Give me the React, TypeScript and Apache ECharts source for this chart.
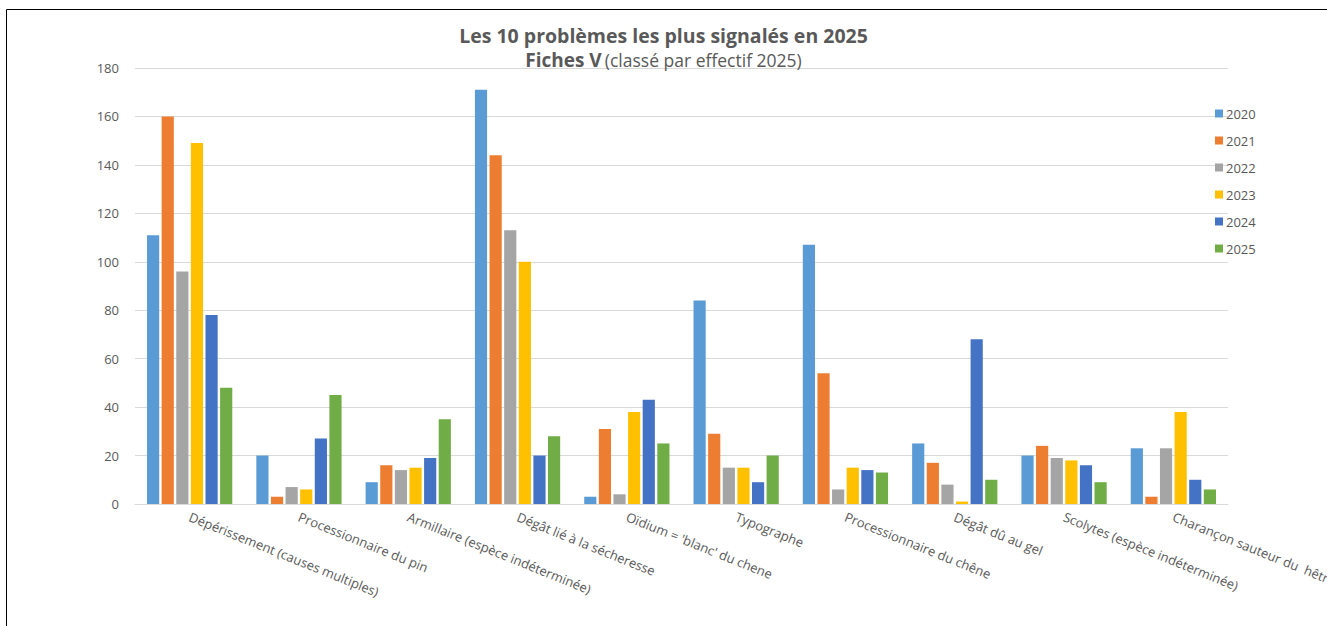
import React, { useEffect, useRef } from "react";
import * as echarts from "echarts";

const categories = [
  "Dépérissement (causes multiples)",
  "Processionnaire du pin",
  "Armillaire (espèce indéterminée)",
  "Dégât lié à la sécheresse",
  "Oïdium = 'blanc' du chene",
  "Typographe",
  "Processionnaire du chêne",
  "Dégât dû au gel",
  "Scolytes (espèce indéterminée)",
  "Charançon sauteur du  hêtre",
];

const years = ["2020", "2021", "2022", "2023", "2024", "2025"];
const colors = ["#5b9bd5", "#ed7d31", "#a5a5a5", "#ffc000", "#4472c4", "#70ad47"];

const v2020 = [111, 20, 9, 171, 3, 84, 107, 25, 20, 23];
const v2021 = [160, 3, 16, 144, 31, 29, 54, 17, 24, 3];
const v2022 = [96, 7, 14, 113, 4, 15, 6, 8, 19, 23];
const v2023 = [149, 6, 15, 100, 38, 15, 15, 1, 18, 38];
const v2024 = [78, 27, 19, 20, 43, 9, 14, 68, 16, 10];
const v2025 = [48, 45, 35, 28, 25, 20, 13, 10, 9, 6];

const seriesValues = [v2020, v2021, v2022, v2023, v2024, v2025];

const FONT = "'Open Sans', 'DejaVu Sans', sans-serif";
const TEXT = "#595959";

export default function App() {
  const ref = useRef<HTMLDivElement>(null);

  useEffect(() => {
    if (!ref.current) return;
    const chart = echarts.init(ref.current, undefined, { renderer: "svg" });
    chart.setOption({
      animation: false,
      backgroundColor: "#ffffff",
      textStyle: { fontFamily: FONT },
      title: {
        left: "center",
        top: 20,
        itemGap: 5,
        text: "Les 10 problèmes les plus signalés en 2025",
        textStyle: { fontFamily: FONT, fontSize: 19.5, fontWeight: "bold", color: TEXT },
        subtext: "{b|Fiches V} {n|(classé par effectif 2025)}",
        subtextStyle: {
          rich: {
            b: { fontFamily: FONT, fontSize: 19, fontWeight: "bold", color: TEXT },
            n: { fontFamily: FONT, fontSize: 17.5, color: TEXT },
          },
        },
      },
      legend: {
        orient: "vertical",
        left: 1210,
        top: 102,
        itemWidth: 8,
        itemHeight: 8,
        itemGap: 14,
        icon: "rect",
        textStyle: { fontFamily: FONT, fontSize: 13, color: TEXT, padding: [0, 0, 0, -2] },
        data: years,
      },
      grid: { left: 135, right: 99, top: 68, bottom: 122, outerBoundsMode: "none" },
      xAxis: {
        type: "category",
        data: categories,
        axisTick: { show: false },
        axisLine: { lineStyle: { color: "#d9d9d9" } },
        axisLabel: {
          rotate: -22,
          interval: 0,
          margin: 12,
          fontFamily: FONT,
          fontSize: 13,
          color: TEXT,
        },
      },
      yAxis: {
        type: "value",
        min: 0,
        max: 180,
        interval: 20,
        axisLine: { show: false },
        axisTick: { show: false },
        splitLine: { lineStyle: { color: "#d9d9d9" } },
        axisLabel: { fontFamily: FONT, fontSize: 13, color: TEXT, margin: 16 },
      },
      graphic: [
        {
          type: "rect",
          shape: { x: 6.5, y: 9.5, width: 1400, height: 700 },
          style: { fill: "none", stroke: "#000000", lineWidth: 1 },
          silent: true,
        },
      ],
      series: years.map((y, i) => ({
        name: y,
        type: "bar",
        data: seriesValues[i],
        itemStyle: { color: colors[i] },
        barGap: "20%",
        barCategoryGap: "22%",
      })),
    });
    return () => chart.dispose();
  }, []);

  return (
    <div
      ref={ref}
      style={{ position: "fixed", left: 0, top: 0, width: 1327, height: 626 }}
    />
  );
}
